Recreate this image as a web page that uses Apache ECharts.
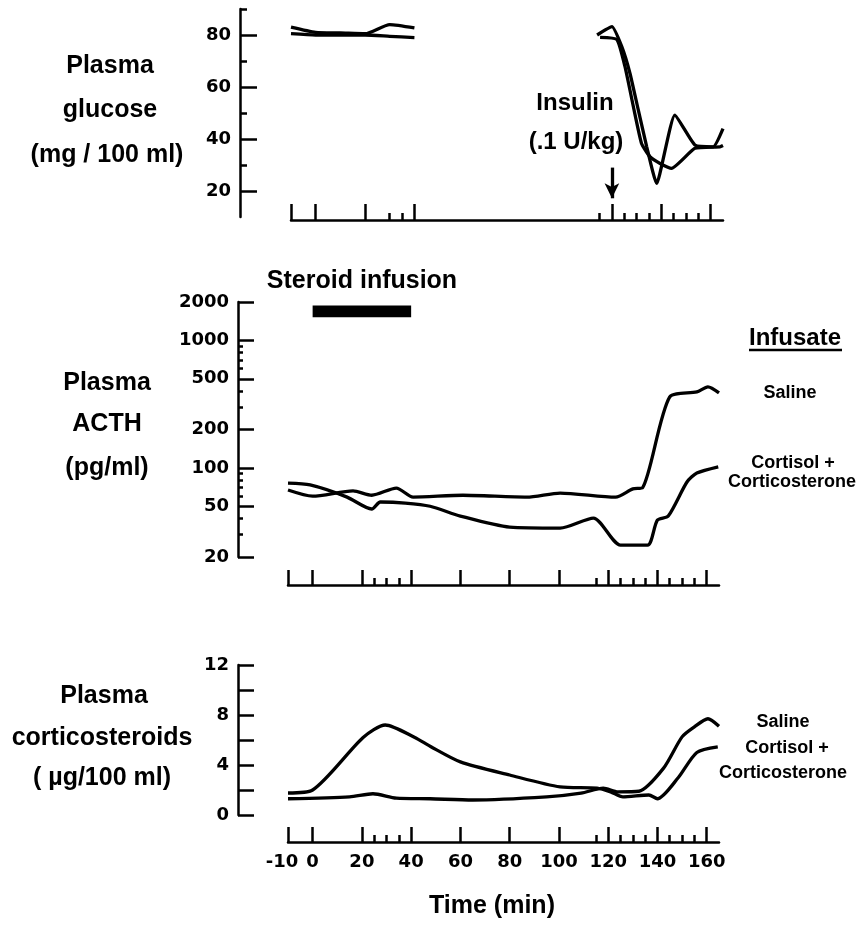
<!DOCTYPE html>
<html><head><meta charset="utf-8">
<script src="https://cdn.jsdelivr.net/npm/echarts@6/dist/echarts.min.js"></script>
<style>html,body{margin:0;padding:0;background:#fff}#c{width:859px;height:926px}</style>
</head><body><div id="c"></div>
<script>
// ---------------- data ----------------
// time axis (min)
const xTallTicks = [-10, 0, 20, 40, 60, 80, 100, 120, 140, 160];
const xShortTicks = [25, 30, 35, 115, 125, 130, 135, 145, 150, 155];
const glucoseTallTicks = [-10, 0, 20, 40, 120, 140, 160];
const glucoseShortTicks = [30, 35, 115, 125, 130, 135, 145, 150, 155];
const xLabels = [-10, 0, 20, 40, 60, 80, 100, 120, 140, 160];

// plasma glucose (mg/100 ml)
const glucoseYMajor = [20, 40, 60, 80];
const glucoseYMinor = [30, 50, 70, 90];
const glucoseEarlyTimes = [-10, 0, 10, 20, 30, 40];
const glucoseEarlyA = [83, 81, 80.8, 80.5, 84, 82.7];
const glucoseEarlyB = [80.5, 80, 80, 80, 79.5, 79];
const glucoseLateTimesA = [114, 120, 124, 127.3, 130.7, 134.1, 138.1, 145.5, 153.6, 161, 165];
const glucoseLateA = [80, 83.2, 75.5, 65.3, 51.1, 37, 22.9, 49.2, 37.7, 37, 44];
const glucoseLateTimesB = [115.2, 122, 125.3, 128.7, 132, 135.4, 139.5, 144.2, 153.6, 163.8, 165];
const glucoseLateB = [79.1, 78.3, 67.8, 52.4, 38.3, 33.2, 30.6, 28.7, 36.4, 37, 37.5];
const insulinTime = 120;

// plasma ACTH (pg/ml), log scale
const acthYMajor = [20, 50, 100, 200, 500, 1000, 2000];
const acthYMinor = [30, 40, 60, 70, 80, 90, 300, 400, 600, 700, 800, 900];
const acthTimesSaline = [-10, 0, 16.4, 24, 34, 40.8, 61, 87, 100.5, 123, 130, 134, 145, 156, 160.5, 165];
const acthSaline = [67, 60, 66, 61, 69.5, 59, 61, 59, 63.5, 59, 68.4, 70, 360, 394, 432, 387];
const acthTimesCort = [-10, -1, 14, 24, 27.5, 37.6, 47.7, 60, 80, 100.5, 114, 125, 136, 140, 144.4, 152, 156, 164.7];
const acthCort = [76, 73.5, 59, 47.6, 54, 53, 50, 41.9, 34.3, 33.7, 40.4, 24.8, 24.8, 39, 41.9, 77.5, 91, 102];
const infusion = [0, 40];

// plasma corticosteroids (ug/100 ml)
const corticoYTicks = [0, 2, 4, 6, 8, 10, 12];
const corticoYLabels = [0, 4, 8, 12];
const corticoTimesSaline = [-10, 15, 24.5, 34, 47.7, 65, 95, 109, 118, 124, 132.5, 142.5, 150, 155, 160.5, 165];
const corticoSaline = [1.3, 1.45, 1.7, 1.35, 1.3, 1.2, 1.45, 1.75, 2.15, 1.85, 1.9, 3.75, 6.25, 7.05, 7.7, 7.1];
const corticoTimesCort = [-10, 0, 20.5, 29.5, 41.5, 47.7, 60, 80, 100.5, 115.5, 121, 126, 136.5, 140, 148.5, 156, 164.5];
const corticoCort = [1.76, 2.0, 6.2, 7.2, 6.2, 5.5, 4.25, 3.2, 2.25, 2.15, 1.85, 1.45, 1.6, 1.3, 3.0, 5.0, 5.45];

// ---------------- chart ----------------
const black = '#000';
const tickFont = { fontFamily: 'DejaVu Sans', fontWeight: 'bold', fontSize: 18, color: black };
const TXT = '"Liberation Sans", Arial, sans-serif';
const lg = v => Math.log10(v);
const pairs = (ts, vs) => ts.map((t, i) => [t, vs[i]]);

function xAxisPair(gridIndex, offset, tall, short, tallLen, labels) {
  const base = { type: 'value', gridIndex, min: -10, max: 165, position: 'bottom', offset, splitLine: { show: false } };
  return [
    Object.assign({}, base, {
      axisLine: { show: true, onZero: false, lineStyle: { color: black, width: 2.5 } },
      axisTick: { show: true, inside: true, length: tallLen, customValues: tall, lineStyle: { color: black, width: 2.5 } },
      axisLabel: labels ? Object.assign({
        show: true, customValues: labels, margin: 11,
        formatter: v => (v < 0 ? '{n|' + v + '}' : String(v)),
        rich: { n: Object.assign({ padding: [0, 12, 0, 0] }, tickFont) }
      }, tickFont) : { show: false }
    }),
    Object.assign({}, base, {
      axisLine: { show: false, onZero: false },
      axisTick: { show: true, inside: true, length: 7, customValues: short, lineStyle: { color: black, width: 2.5 } },
      axisLabel: { show: false }
    })
  ];
}

function yAxisDef(gridIndex, min, max, offset, ticks, len, labels, formatter, showLine) {
  return {
    type: 'value', gridIndex, min, max, position: 'left', offset,
    splitLine: { show: false },
    axisLine: { show: showLine, onZero: false, lineStyle: { color: black, width: 2.5 } },
    axisTick: { show: true, inside: true, length: len, customValues: ticks, lineStyle: { color: black, width: 2.5 } },
    axisLabel: labels ? Object.assign({ show: true, customValues: labels, margin: 9, formatter: formatter }, tickFont) : { show: false }
  };
}

const lineStyle = { color: black, width: 3.3 };
function line(xi, yi, ts, vs, smooth, extra) {
  return Object.assign({ type: 'line', xAxisIndex: xi, yAxisIndex: yi, data: pairs(ts, vs), symbol: 'none', smooth: smooth, lineStyle: lineStyle, silent: true }, extra || {});
}

function txt(text, x, y, size, align) {
  return { type: 'text', silent: true, style: { text, x, y, font: 'bold ' + size + 'px ' + TXT, fill: black,
    textAlign: align || 'center', textVerticalAlign: 'middle', align: align || 'center', verticalAlign: 'middle' } };
}

const chart = echarts.init(document.getElementById('c'));
const acthFmt = v => String(Math.round(Math.pow(10, v)));

chart.setOption({
  animation: false,
  backgroundColor: '#fff',
  grid: [
    { left: 291, width: 432, top: 9, height: 208 },
    { left: 288, width: 431, top: 302, height: 255 },
    { left: 288, width: 431, top: 665, height: 150 }
  ],
  xAxis: [].concat(
    xAxisPair(0, 3, glucoseTallTicks, glucoseShortTicks, 16, null),
    xAxisPair(1, 28, xTallTicks, xShortTicks, 15, null),
    xAxisPair(2, 27, xTallTicks, xShortTicks, 15, xLabels)
  ),
  yAxis: [
    yAxisDef(0, 10, 90, 51, glucoseYMajor, 17, glucoseYMajor, null, true),
    yAxisDef(0, 10, 90, 51, glucoseYMinor, 7, null, null, false),
    { type: 'log', logBase: 10, gridIndex: 1, min: 20, max: 2000, show: false },
    yAxisDef(1, lg(20), lg(2000), 50, acthYMajor.map(lg), 16, acthYMajor.map(lg), acthFmt, true),
    yAxisDef(1, lg(20), lg(2000), 50, acthYMinor.map(lg), 5, null, null, false),
    yAxisDef(2, 0, 12, 50, corticoYTicks, 16, corticoYLabels, null, true)
  ],
  series: [
    line(0, 0, glucoseEarlyTimes, glucoseEarlyA, 0.2),
    line(0, 0, glucoseEarlyTimes, glucoseEarlyB, 0.2),
    line(0, 0, glucoseLateTimesA, glucoseLateA, 0.15, {
      markLine: {
        silent: true, symbol: ['none', 'arrow'], symbolSize: [11, 15],
        label: { show: false }, lineStyle: { color: black, width: 3.3, type: 'solid' },
        data: [[{ coord: [insulinTime, 29] }, { coord: [insulinTime, 17.2] }]]
      }
    }),
    line(0, 0, glucoseLateTimesB, glucoseLateB, 0.15),
    line(2, 2, acthTimesSaline, acthSaline, 0.25, {
      markArea: {
        silent: true, itemStyle: { color: black },
        data: [[{ coord: [infusion[0], 1520] }, { coord: [infusion[1], 1880] }]]
      }
    }),
    line(2, 2, acthTimesCort, acthCort, 0.25),
    line(4, 5, corticoTimesSaline, corticoSaline, 0.25),
    line(4, 5, corticoTimesCort, corticoCort, 0.25)
  ],
  graphic: [
    txt('Plasma', 110, 66, 25), txt('glucose', 110, 110, 25), txt('(mg / 100 ml)', 107, 155, 25),
    txt('Plasma', 107, 383, 25), txt('ACTH', 107, 424, 25), txt('(pg/ml)', 107, 468, 25),
    txt('Plasma', 104, 696, 25), txt('corticosteroids', 102, 738, 25), txt('( \u00b5g/100 ml)', 102, 778, 25),
    txt('Insulin', 575, 103, 24), txt('(.1 U/kg)', 576, 142, 24),
    txt('Steroid infusion', 362, 281, 25),
    txt('Infusate', 795, 338, 24),
    { type: 'line', silent: true, shape: { x1: 749, y1: 350, x2: 842, y2: 350 }, style: { stroke: black, lineWidth: 2.5 } },
    txt('Saline', 790, 393, 18), txt('Cortisol +', 793, 463, 18), txt('Corticosterone', 792, 482, 18),
    txt('Saline', 783, 722, 18), txt('Cortisol +', 787, 748, 18), txt('Corticosterone', 783, 773, 18),
    txt('Time (min)', 492, 906, 25)
  ]
});
</script></body></html>
